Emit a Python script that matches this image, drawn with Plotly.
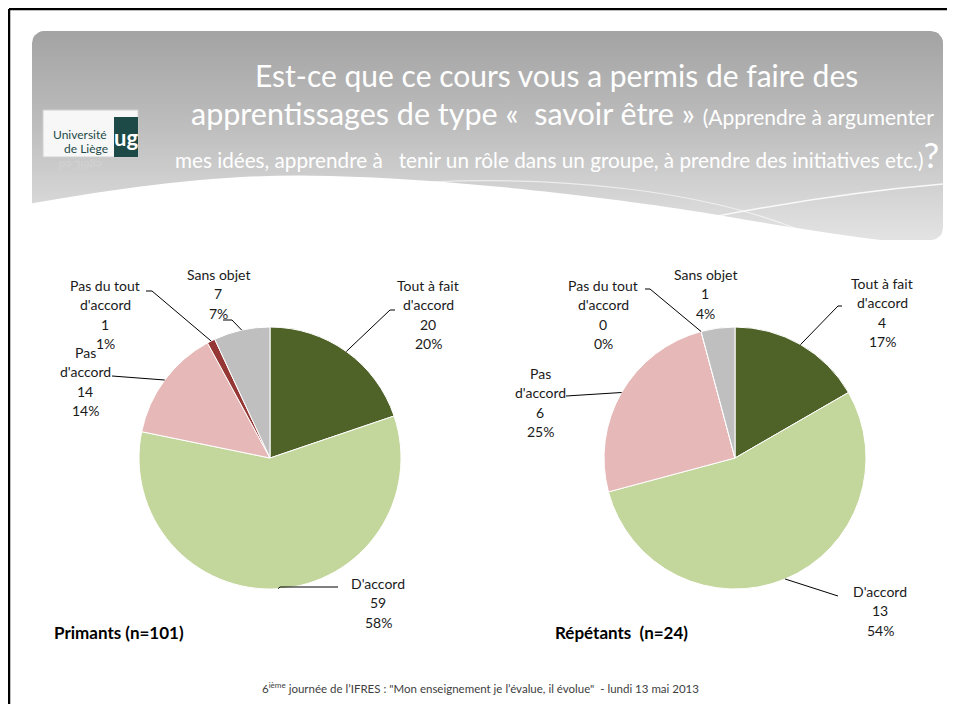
import numpy as np
import plotly.graph_objects as go

# ---------------- data ----------------
categories = ["Tout à fait d'accord", "D'accord", "Pas d'accord",
              "Pas du tout d'accord", "Sans objet"]
label_lines = [["Tout à fait", "d'accord"], ["D'accord"], ["Pas", "d'accord"],
               ["Pas du tout", "d'accord"], ["Sans objet"]]
primants_values = [20, 59, 14, 1, 7]
repetants_values = [4, 13, 6, 0, 1]
group_titles = ["Primants (n=101)", "Répétants  (n=24)"]
title_line1 = "Est-ce que ce cours vous a permis de faire des"
title_line2a = "apprentissages de type «\u00a0 savoir être »"
title_line2b = "(Apprendre à argumenter"
title_line3 = "mes idées, apprendre à\u00a0\u00a0 tenir un rôle dans un groupe, à prendre des initiatives etc.)"
footer_text = ("6<sup>ième</sup> journée de l’IFRES : \"Mon enseignement je l’évalue, il évolue\""
               "\u00a0 - lundi 13 mai 2013")

# ---------------- style ----------------
slice_colors = ["#4F6228", "#C3D69B", "#E6B9B8", "#953735", "#BFBFBF"]
PAGE_W, PAGE_H = 955, 720
OFF = 8                      # default page margin of the html body
W, H = PAGE_W - OFF, 696     # right edge flush with the window, no vertical scroll
X_END, Y_END = OFF + W, OFF + H
FONT = "Lato, 'Open Sans', sans-serif"

pies = [
    dict(values=primants_values, cx=270, cy=458, r=131,
         label_pos=[(428, 285), (378, 583), (85, 352), (105, 285), (218, 274)],
         leaders={0: [(395, 310), (390, 310)],
                  1: [(338, 587), (280, 587)],
                  2: [(112, 376)],
                  3: [(146, 291), (152, 291)],
                  4: [(223, 320), (232, 320)]},
         title_pos=(52, 632)),
    dict(values=repetants_values, cx=735, cy=458, r=131,
         label_pos=[(882, 283), (880, 591), (540, 373), (603, 285), (705, 274)],
         leaders={0: [(842, 306), (838, 306)],
                  1: [(838, 596)],
                  2: [(566, 396)],
                  3: [(645, 289), (650, 289)]},
         title_pos=(553, 632)),
]

fig = go.Figure()

# ---- banner (rounded rectangle with vertical gradient) ----
def rounded_rect(x0, y0, x1, y1, rad, n=8):
    pts = []
    corners = [(x1 - rad, y0 + rad, -90, 0), (x1 - rad, y1 - rad, 0, 90),
               (x0 + rad, y1 - rad, 90, 180), (x0 + rad, y0 + rad, 180, 270)]
    for cx, cy, a0, a1 in corners:
        for a in np.linspace(np.radians(a0), np.radians(a1), n):
            pts.append((cx + rad * np.cos(a), cy + rad * np.sin(a)))
    pts.append(pts[0])
    return [p[0] for p in pts], [p[1] for p in pts]

bx, by = rounded_rect(32, 31, 943, 240, 12)
fig.add_trace(go.Scatter(
    x=bx, y=by, mode="lines", fill="toself", line=dict(width=0),
    fillgradient=dict(type="vertical", start=31, stop=240,
                      colorscale=[[0, "#a3a3a3"], [0.45, "#bdbdbd"], [1, "#e3e3e3"]]),
    hoverinfo="skip", showlegend=False))

# ---- pies ----
anns = []
shapes = []
for p in pies:
    cx, cy, r = p["cx"], p["cy"], p["r"]
    fig.add_trace(go.Pie(
        values=p["values"], labels=categories, sort=False, direction="clockwise",
        rotation=0, marker=dict(colors=slice_colors, line=dict(color="white", width=1)),
        textinfo="none", hoverinfo="label+value+percent", showlegend=False,
        domain=dict(x=[(cx - r - OFF) / W, (cx + r - OFF) / W],
                    y=[1 - (cy + r - OFF) / H, 1 - (cy - r - OFF) / H])))
    vals = np.array(p["values"], dtype=float)
    tot = vals.sum()
    cum = np.cumsum(vals) - vals / 2
    for j, v in enumerate(p["values"]):
        pct = int(round(v / tot * 100))
        lines = label_lines[j] + [str(v), f"{pct}%"]
        lx, ly = p["label_pos"][j]
        for k, t in enumerate(lines):
            anns.append(dict(x=lx, y=ly + k * 19.6, text=t, showarrow=False,
                             xref="x", yref="y", xanchor="center", yanchor="middle",
                             font=dict(family=FONT, size=14, color="#1a1a1a")))
        if j in p["leaders"]:
            ang = cum[j] / tot * 2 * np.pi
            sx, sy = cx + r * np.sin(ang), cy - r * np.cos(ang)
            pts = p["leaders"][j] + [(sx, sy)]
            path = "M " + " L ".join(f"{x:.1f},{y:.1f}" for x, y in pts)
            shapes.append(dict(type="path", path=path, xref="x", yref="y",
                               line=dict(color="black", width=1), layer="above"))

for p, t in zip(pies, group_titles):
    anns.append(dict(x=p["title_pos"][0], y=p["title_pos"][1], text=f"<b>{t}</b>",
                     showarrow=False, xref="x", yref="y", xanchor="left",
                     yanchor="middle", font=dict(family=FONT, size=17, color="black")))

# ---- white wave over banner bottom ----
shapes.append(dict(type="path", xref="x", yref="y", layer="above",
                   path="M 28,204 C 120,188 230,172 330,176 C 450,179 600,196 700,212 "
                        "C 770,224 830,234 890,241 L 890,250 L 28,250 Z",
                   fillcolor="white", line=dict(width=0)))
shapes.append(dict(type="path", xref="x", yref="y", layer="above",
                   path="M 640,232 C 740,210 850,192 943,184",
                   line=dict(color="rgba(255,255,255,0.85)", width=1.5)))
shapes.append(dict(type="path", xref="x", yref="y", layer="above",
                   path="M 430,182 C 560,176 700,190 800,230",
                   line=dict(color="rgba(255,255,255,0.6)", width=1.2)))

# ---- logo ----
shapes.append(dict(type="rect", xref="x", yref="y", x0=43, x1=138, y0=110, y1=157,
                   fillcolor="#f7f7f7", line=dict(color="#d0d0d0", width=1), layer="above"))
shapes.append(dict(type="rect", xref="x", yref="y", x0=114, x1=138, y0=117, y1=157,
                   fillcolor="#1d4a47", line=dict(width=0), layer="above"))
anns += [
    dict(x=80, y=134, text="Université", showarrow=False, xref="x", yref="y",
         font=dict(family=FONT, size=12, color="#1d4a47")),
    dict(x=86, y=148, text="de Liège", showarrow=False, xref="x", yref="y",
         font=dict(family=FONT, size=12, color="#1d4a47")),
    dict(x=126, y=137, text="<b>ug</b>", showarrow=False, xref="x", yref="y",
         font=dict(family=FONT, size=22, color="white")),
    dict(x=80, y=166, text="egèiL ed", textangle=180, showarrow=False, xref="x", yref="y",
         font=dict(family=FONT, size=12, color="#d2d2d2")),
]

# ---- title ----
anns += [
    dict(x=556, y=75, text=title_line1, showarrow=False, xref="x", yref="y",
         xanchor="center", yanchor="middle", font=dict(family=FONT, size=30, color="white")),
    dict(x=562, y=113, text=f"{title_line2a} <span style='font-size:21px'>{title_line2b}</span>",
         showarrow=False, xref="x", yref="y", xanchor="center", yanchor="middle",
         font=dict(family=FONT, size=30.5, color="white")),
    dict(x=557, y=154, text=f"{title_line3}<span style='font-size:35px'>?</span>",
         showarrow=False, xref="x", yref="y", xanchor="center", yanchor="middle",
         font=dict(family=FONT, size=20.7, color="white")),
]

# ---- footer ----
anns.append(dict(x=480, y=687, text=footer_text, showarrow=False, xref="x", yref="y",
                 xanchor="center", yanchor="middle",
                 font=dict(family=FONT, size=11.5, color="#404040")))

# ---- slide frame ----
shapes.append(dict(type="line", xref="x", yref="y", x0=9, x1=X_END, y0=9, y1=9,
                   line=dict(color="black", width=2.5), layer="above"))
shapes.append(dict(type="line", xref="x", yref="y", x0=9, x1=9, y0=9, y1=Y_END,
                   line=dict(color="black", width=2.5), layer="above"))

fig.update_layout(
    width=W, height=H, margin=dict(l=0, r=0, t=0, b=0),
    paper_bgcolor="white", plot_bgcolor="white",
    xaxis=dict(range=[OFF, X_END], domain=[0, 1], visible=False, fixedrange=True),
    yaxis=dict(range=[Y_END, OFF], domain=[0, 1], visible=False, fixedrange=True),
    shapes=shapes, annotations=anns, showlegend=False,
)

fig.write_html("out.html")
